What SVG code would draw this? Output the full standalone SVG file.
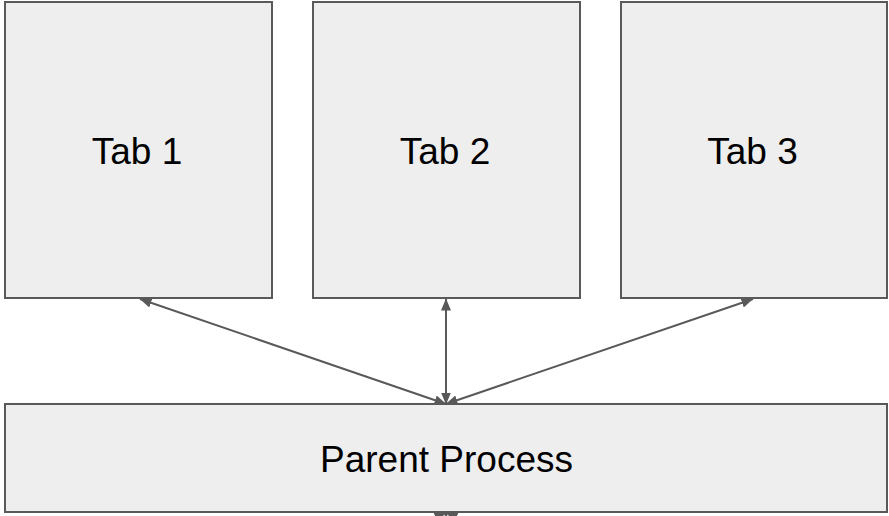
<svg xmlns="http://www.w3.org/2000/svg" width="889" height="516" viewBox="0 0 889 516">
  <defs>
    <style>
      .box { fill: #eeeeee; stroke: #595959; stroke-width: 2; }
      .label { font-family: "Liberation Sans", Arial, sans-serif; font-size: 37px; fill: #000000; text-anchor: middle; }
      .link { stroke: #595959; stroke-width: 2; fill: none; }
    </style>
    <marker id="head" viewBox="0 0 12 10" refX="11.5" refY="5" markerWidth="12" markerHeight="10" markerUnits="userSpaceOnUse" orient="auto-start-reverse">
      <path d="M0,0 L12,5 L0,10 Z" fill="#595959"/>
    </marker>
  </defs>

  <rect width="889" height="516" fill="#ffffff"/>

  <g id="tab1">
    <rect class="box" x="5" y="2" width="267" height="296"/>
    <text class="label" x="137" y="164">Tab 1</text>
  </g>
  <g id="tab2">
    <rect class="box" x="313" y="2" width="267" height="296"/>
    <text class="label" x="445" y="164">Tab 2</text>
  </g>
  <g id="tab3">
    <rect class="box" x="621" y="2" width="266" height="296"/>
    <text class="label" x="752.5" y="164">Tab 3</text>
  </g>
  <g id="parent">
    <rect class="box" x="5" y="404" width="882" height="108"/>
    <text class="label" x="446.5" y="472">Parent Process</text>
  </g>

  <g id="connectors">
    <line class="link" x1="140" y1="299" x2="446" y2="404" marker-start="url(#head)" marker-end="url(#head)"/>
    <line class="link" x1="446" y1="299" x2="446" y2="404" marker-start="url(#head)" marker-end="url(#head)"/>
    <line class="link" x1="753" y1="299" x2="446" y2="404" marker-start="url(#head)" marker-end="url(#head)"/>
    <!-- links continuing below the lower edge -->
    <line class="link" x1="446" y1="513" x2="140" y2="618" marker-start="url(#head)"/>
    <line class="link" x1="446" y1="513" x2="446" y2="618" marker-start="url(#head)"/>
    <line class="link" x1="446" y1="513" x2="753" y2="618" marker-start="url(#head)"/>
  </g>
</svg>
